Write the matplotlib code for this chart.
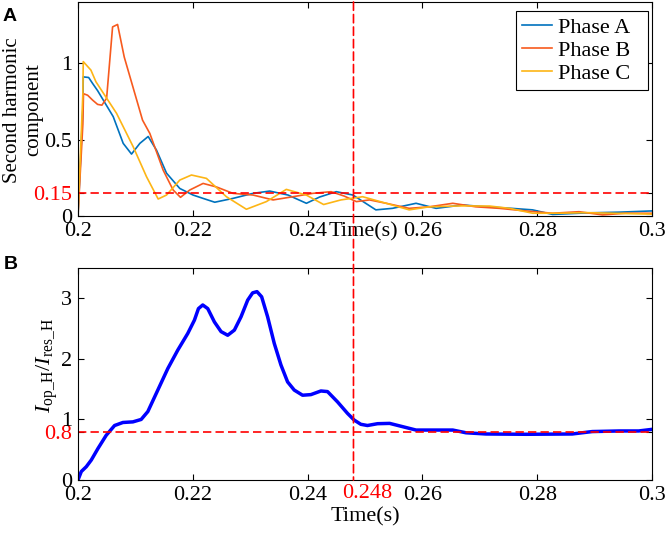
import numpy as np
import matplotlib
matplotlib.use('Agg')
import matplotlib.pyplot as plt
from matplotlib.patches import ConnectionPatch

# ---- data ----
t_a = [0.2, 0.20085, 0.20092, 0.20186, 0.20255, 0.20342, 0.20614, 0.20788, 0.20933, 0.21078,
       0.21223, 0.21369, 0.21543, 0.21774, 0.22005, 0.2218, 0.22383, 0.227, 0.2305, 0.2334,
       0.2366, 0.2398, 0.2421, 0.2450, 0.2479, 0.2519, 0.2548, 0.2589, 0.2624, 0.2670,
       0.2711, 0.2755, 0.2792, 0.2827, 0.2885, 0.2943, 0.2999]
phase_a = [0.0, 0.7, 0.91, 0.906, 0.867, 0.82, 0.65, 0.475, 0.405, 0.475,
           0.52, 0.43, 0.28, 0.18, 0.137, 0.115, 0.09, 0.115, 0.148, 0.163,
           0.137, 0.083, 0.124, 0.159, 0.137, 0.04, 0.05, 0.083, 0.05, 0.072,
           0.06, 0.05, 0.04, 0.01, 0.02, 0.025, 0.033]

t_b = [0.2, 0.20085, 0.20096, 0.20168, 0.20255, 0.20342, 0.20417, 0.20499, 0.20603, 0.2069,
       0.20806, 0.21125, 0.21252, 0.21484, 0.21658, 0.21786, 0.21948, 0.2218, 0.22412, 0.227,
       0.2305, 0.234, 0.23745, 0.2409, 0.2441, 0.2464, 0.2485, 0.2508, 0.2537, 0.2577,
       0.2612, 0.2653, 0.2693, 0.2734, 0.2780, 0.2827, 0.2873, 0.2914, 0.2954, 0.2999]
phase_b = [0.0, 0.6, 0.80, 0.79, 0.758, 0.73, 0.725, 0.77, 1.237, 1.253,
           1.04, 0.627, 0.54, 0.30, 0.17, 0.122, 0.17, 0.213, 0.19, 0.148,
           0.137, 0.105, 0.126, 0.148, 0.159, 0.13, 0.094, 0.105, 0.083, 0.05,
           0.06, 0.083, 0.06, 0.05, 0.033, 0.018, 0.028, 0.007, 0.018, 0.018]

t_c = [0.2, 0.20085, 0.20092, 0.20226, 0.20313, 0.20673, 0.20962, 0.21194, 0.21397, 0.21543,
       0.21774, 0.21977, 0.22238, 0.22586, 0.22934, 0.23282, 0.2363, 0.23977, 0.2428, 0.2458,
       0.2496, 0.2537, 0.2577, 0.2612, 0.2668, 0.2717, 0.2752, 0.2792, 0.2838, 0.2885,
       0.2931, 0.2999]
phase_c = [0.0, 0.8, 1.01, 0.954, 0.878, 0.671, 0.453, 0.257, 0.111, 0.137,
           0.235, 0.268, 0.246, 0.126, 0.044, 0.094, 0.174, 0.137, 0.075, 0.105,
           0.126, 0.083, 0.04, 0.06, 0.066, 0.065, 0.05, 0.018, 0.018, 0.022,
           0.018, 0.012]

t_ratio = [0.2, 0.20058, 0.20145, 0.20232, 0.20348, 0.20493, 0.20638, 0.20783, 0.20957, 0.21101,
           0.21217, 0.21391, 0.21565, 0.21739, 0.21913, 0.22029, 0.22099, 0.22174, 0.22261, 0.22377,
           0.22493, 0.22609, 0.22725, 0.22841, 0.22957, 0.23043, 0.23119, 0.232, 0.23304, 0.2342,
           0.23536, 0.23652, 0.23768, 0.23913, 0.24058, 0.24232, 0.24348, 0.24522, 0.24696, 0.24812,
           0.24928, 0.25043, 0.2522, 0.2543, 0.2566, 0.2589, 0.2624, 0.2653, 0.2676, 0.2711,
           0.2781, 0.2861, 0.2896, 0.2943, 0.2977, 0.2999]
ratio = [0.0, 0.14, 0.22, 0.33, 0.52, 0.74, 0.90, 0.95, 0.96, 1.00,
         1.13, 1.485, 1.84, 2.145, 2.42, 2.64, 2.83, 2.89, 2.83, 2.61,
         2.45, 2.39, 2.475, 2.695, 2.97, 3.09, 3.11, 3.025, 2.695, 2.255,
         1.90, 1.62, 1.485, 1.40, 1.41, 1.47, 1.46, 1.29, 1.10, 0.99,
         0.92, 0.90, 0.93, 0.935, 0.88, 0.825, 0.825, 0.825, 0.78, 0.76,
         0.755, 0.76, 0.80, 0.81, 0.81, 0.835]

harm_limit = 0.15
ratio_limit = 0.8
t_trip = 0.248

x_ticks = [0.2, 0.22, 0.24, 0.26, 0.28, 0.3]
x_labels = ['0.2', '0.22', '0.24', '0.26', '0.28', '0.3']

plt.rcParams['font.family'] = ['Liberation Serif', 'DejaVu Serif']
plt.rcParams['mathtext.fontset'] = 'custom'
plt.rcParams['mathtext.rm'] = 'Liberation Serif'
plt.rcParams['mathtext.it'] = 'Liberation Serif:italic'
plt.rcParams['font.size'] = 16

dash = (0, (5, 2.5))

fig = plt.figure(figsize=(6.71, 5.37), dpi=100)
axA = fig.add_axes([0.1162, 0.5978, 0.8554, 0.3985])
axB = fig.add_axes([0.1162, 0.1061, 0.8554, 0.3948])

for ax in (axA, axB):
    ax.tick_params(direction='in', top=True, right=True, length=4, width=0.8, labelsize=16, pad=4)
    for s in ax.spines.values():
        s.set_linewidth(0.8)
    ax.set_xlim(0.2, 0.3)
    ax.set_xticks(x_ticks)
    ax.set_xticklabels(x_labels)

# ---- panel A ----
axA.plot(t_a, phase_a, color='#0072BD', lw=1.2, label='Phase A  ')
axA.plot(t_b, phase_b, color='#F75A1E', lw=1.2, label='Phase B  ')
axA.plot(t_c, phase_c, color='#FDB515', lw=1.2, label='Phase C  ')
axA.axhline(harm_limit, color='red', ls=dash, lw=1.2)
axA.set_ylim(0, 1.4)
axA.set_yticks([0, harm_limit, 0.5, 1])
axA.set_yticklabels(['0', '0.15', '0.5', '1'])
axA.get_yticklabels()[1].set_color('red')
axA.set_ylabel('Second harmonic\ncomponent', fontsize=15, linespacing=1.15)
axA.yaxis.set_label_coords(-0.061, 0.495)
axA.text(0.2497, -0.03, 'Time(s)', transform=axA.get_xaxis_transform(),
         ha='center', va='top', fontsize=16)
leg = axA.legend(loc='upper right', bbox_to_anchor=(0.993, 0.958), borderaxespad=0,
                 fancybox=False, edgecolor='black', framealpha=1, fontsize=16,
                 handlelength=1.35, handletextpad=0.25, borderpad=0.3, labelspacing=0.1)
leg.get_frame().set_linewidth(0.8)

# ---- panel B ----
axB.plot(t_ratio, ratio, color='#0000FF', lw=2.5)
axB.axhline(ratio_limit, color='red', ls=dash, lw=1.2)
axB.set_ylim(0, 3.5)
axB.set_yticks([0, ratio_limit, 1, 2, 3])
axB.set_yticklabels(['0', '0.8', '1', '2', '3'])
axB.get_yticklabels()[1].set_color('red')
axB.set_ylabel(r'$I_{\mathrm{op\_H}}/I_{\mathrm{res\_H}}$', fontsize=16)
axB.yaxis.set_label_coords(-0.032, 0.54)
axB.set_xlabel('Time(s)', fontsize=16, labelpad=2)
axB.text(0.2504, -0.02, '0.248', transform=axB.get_xaxis_transform(),
         ha='center', va='top', fontsize=16, color='red')

# vertical trip line across both panels
con = ConnectionPatch(xyA=(t_trip, 1.4), coordsA=axA.transData,
                      xyB=(t_trip, 0), coordsB=axB.transData,
                      color='red', ls=dash, lw=1.2)
fig.add_artist(con)

fig.text(0.004, 0.985, 'A', fontsize=14, fontweight='bold', family='Liberation Sans', va='top')
fig.text(0.006, 0.523, 'B', fontsize=14, fontweight='bold', family='Liberation Sans', va='top')

fig.savefig('out.png', dpi=100, facecolor='white')
